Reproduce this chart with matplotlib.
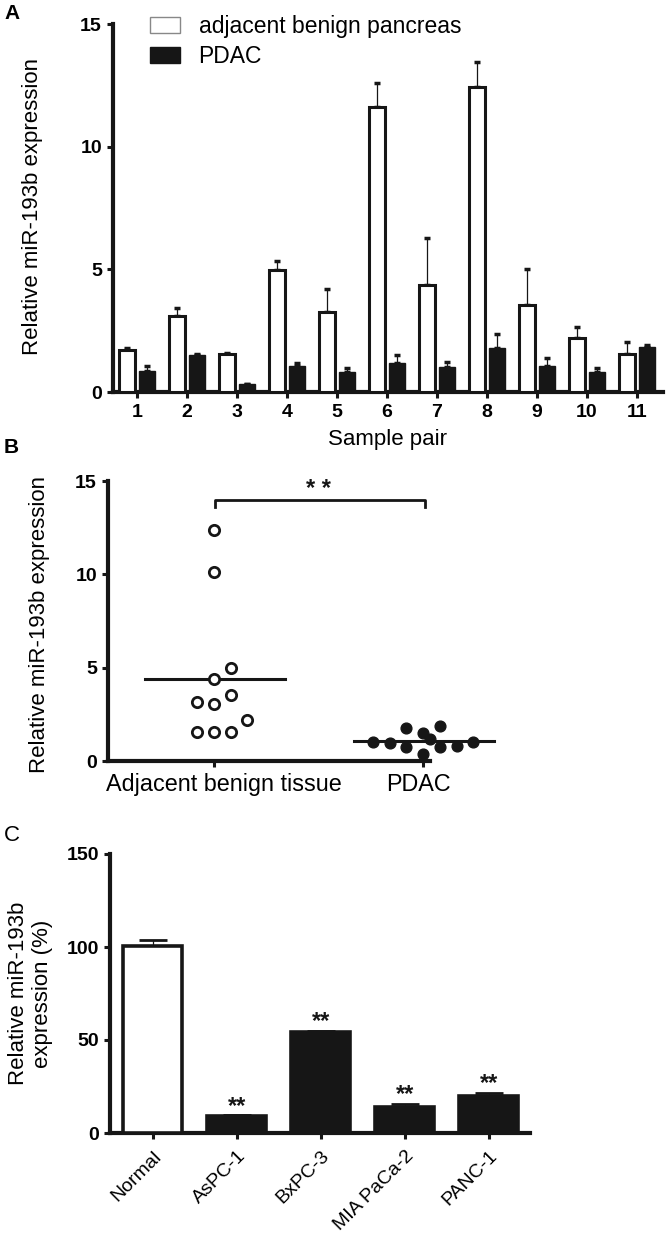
import numpy as np
import matplotlib
matplotlib.use("Agg")
import matplotlib.pyplot as plt
import matplotlib.transforms as mtransforms
from matplotlib.patches import Patch

plt.rcParams['font.family'] = ['Liberation Sans', 'DejaVu Sans']

# ---------------- data ----------------
pairs = ['1', '2', '3', '4', '5', '6', '7', '8', '9', '10', '11']
benign_mean = [1.70, 3.11, 1.53, 4.98, 3.27, 11.61, 4.38, 12.45, 3.54, 2.22, 1.53]
benign_err = [0.11, 0.31, 0.08, 0.38, 0.92, 0.98, 1.89, 1.02, 1.47, 0.41, 0.49]
pdac_mean = [0.85, 1.49, 0.34, 1.05, 0.83, 1.20, 1.00, 1.78, 1.04, 0.81, 1.83]
pdac_err = [0.23, 0.04, 0.00, 0.14, 0.14, 0.29, 0.22, 0.60, 0.34, 0.15, 0.10]

groups_b = ['Adjacent benign tissue', 'PDAC']
benign_pts = [12.4, 10.1, 4.97, 4.38, 3.53, 3.16, 3.05, 2.19, 1.55, 1.55, 1.55]
benign_jit = [0.0, 0.0, 0.08, 0.0, 0.08, -0.08, 0.0, 0.16, -0.08, 0.0, 0.08]
pdac_pts = [1.00, 0.96, 1.76, 0.75, 1.50, 0.37, 1.18, 1.87, 0.75, 0.80, 1.00]
pdac_jit = [-0.24, -0.16, -0.08, -0.08, 0.0, 0.0, 0.035, 0.08, 0.08, 0.16, 0.24]

cell_lines = ['Normal', 'AsPC-1', 'BxPC-3', 'MIA PaCa-2', 'PANC-1']
c_mean = [100.5, 9.2, 54.3, 14.0, 20.0]
c_err = [3.5, 0.3, 0.7, 1.8, 1.5]
c_sig = ['', '**', '**', '**', '**']

BLACK = '#161616'
W, H = 666, 1235
fig = plt.figure(figsize=(W / 100, H / 100), dpi=100)


def px_axes(l, r, t, b):
    return fig.add_axes([l / W, 1 - b / H, (r - l) / W, (b - t) / H])


def style(ax, tick_fs):
    for s in ['top', 'right']:
        ax.spines[s].set_visible(False)
    for s in ['left', 'bottom']:
        ax.spines[s].set_linewidth(3.0)
        ax.spines[s].set_color(BLACK)
    ax.tick_params(direction='out', length=4.5, width=2.2, color=BLACK)
    for lab in ax.get_yticklabels():
        lab.set_fontweight('bold')
        lab.set_fontsize(tick_fs)


# ---------------- Panel A ----------------
axA = px_axes(113, 663, 24, 392)
x = np.arange(1, len(pairs) + 1)
bw = 0.33
axA.bar(x - 0.2, benign_mean, width=bw, color='white', edgecolor=BLACK, linewidth=2.2, zorder=3)
axA.bar(x + 0.2, pdac_mean, width=bw, color=BLACK, edgecolor=BLACK, linewidth=1, zorder=3)
axA.errorbar(x - 0.2, benign_mean, yerr=[np.zeros(len(x)), benign_err], fmt='none',
             ecolor=BLACK, elinewidth=0.9, capsize=2.5, capthick=2.5, zorder=2)
axA.errorbar(x + 0.2, pdac_mean, yerr=[np.zeros(len(x)), pdac_err], fmt='none',
             ecolor=BLACK, elinewidth=0.9, capsize=2.5, capthick=2.5, zorder=2)
axA.set_xlim(0.52, 11.52)
axA.set_ylim(0, 15)
axA.set_yticks([0, 5, 10, 15])
axA.set_xticks(x)
axA.set_xticklabels(pairs, fontsize=14, fontweight='bold')
style(axA, 14)
axA.tick_params(axis='x', pad=4)
axA.set_ylabel('Relative miR-193b expression', fontsize=16)
axA.yaxis.set_label_coords(-0.127, 0.505)
axA.set_xlabel('Sample pair', fontsize=16)
axA.xaxis.set_label_coords(0.5, -0.1)
handles = [Patch(facecolor='white', edgecolor='#888888', linewidth=1.0),
           Patch(facecolor=BLACK, edgecolor=BLACK)]
axA.legend(handles, ['adjacent benign pancreas', 'PDAC'], loc='upper left',
           bbox_to_anchor=(0.068, 1.024), frameon=False, fontsize=16.5,
           handlelength=1.3, handleheight=0.65, handletextpad=0.8,
           labelspacing=0.3, borderpad=0, borderaxespad=0)

# ---------------- Panel B ----------------
axB = px_axes(108, 430, 481, 761)
axB.scatter(np.zeros(len(benign_pts)) + np.array(benign_jit), benign_pts, s=55,
            facecolor='white', edgecolor=BLACK, linewidth=2.0, zorder=3, clip_on=False)
axB.scatter(np.ones(len(pdac_pts)) + np.array(pdac_jit), pdac_pts, s=60,
            facecolor=BLACK, edgecolor=BLACK, linewidth=1.0, zorder=3, clip_on=False)
for i, pts in enumerate([benign_pts, pdac_pts]):
    m = np.mean(pts)
    axB.plot([i - 0.33, i + 0.34], [m, m], color=BLACK, lw=2.2, zorder=2, clip_on=False)
axB.set_xlim(-0.507, 1.033)
axB.set_ylim(0, 15)
axB.set_yticks([0, 5, 10, 15])
axB.set_xticks([0, 1])
axB.set_xticklabels(groups_b, fontsize=16.8)
style(axB, 14)
axB.tick_params(axis='x', pad=4)
for lab, dx in zip(axB.get_xticklabels(), [0.10, -0.05]):
    lab.set_transform(lab.get_transform() +
                      mtransforms.ScaledTranslation(dx, 0, fig.dpi_scale_trans))
axB.set_ylabel('Relative miR-193b expression', fontsize=16)
axB.yaxis.set_label_coords(-0.18, 0.486)
axB.plot([0.005, 0.005, 1.01, 1.01], [13.6, 14.0, 14.0, 13.6], color=BLACK, lw=2.0,
         clip_on=False)
axB.text(0.5, 14.2, '* *', ha='center', va='baseline', fontsize=17, fontweight='bold',
         color=BLACK)

# ---------------- Panel C ----------------
axC = px_axes(110, 530, 854, 1133)
xc = np.arange(len(cell_lines))
colors = ['white'] + [BLACK] * (len(cell_lines) - 1)
axC.bar(xc, c_mean, width=0.7, color=colors, edgecolor=BLACK, linewidth=2.6, zorder=3)
axC.errorbar(xc, c_mean, yerr=[np.zeros(len(xc)), c_err], fmt='none', ecolor=BLACK,
             elinewidth=0.9, capsize=10, capthick=2.0, zorder=2)
for xi, m, e, s in zip(xc, c_mean, c_err, c_sig):
    if s:
        axC.text(xi, m + e + 1.5, s, ha='center', va='baseline', fontsize=17,
                 fontweight='bold', color=BLACK)
axC.set_xlim(-0.51, 4.49)
axC.set_ylim(0, 150)
axC.set_yticks([0, 50, 100, 150])
axC.set_xticks(xc)
axC.set_xticklabels(cell_lines, fontsize=14, rotation=45, ha='right',
                    rotation_mode='anchor')
style(axC, 14)
axC.tick_params(axis='x', pad=6)
axC.set_ylabel('Relative miR-193b\nexpression (%)', fontsize=16, linespacing=1.15)
axC.yaxis.set_label_coords(-0.136, 0.5)

# ---------------- panel letters ----------------
fig.text(4 / W, 1 - 4 / H, 'A', fontsize=15, fontweight='bold', va='top', ha='left')
fig.text(4 / W, 1 - 438 / H, 'B', fontsize=15, fontweight='bold', va='top', ha='left')
fig.text(4 / W, 1 - 825 / H, 'C', fontsize=16, va='top', ha='left')

fig.savefig('out.png', dpi=100)
